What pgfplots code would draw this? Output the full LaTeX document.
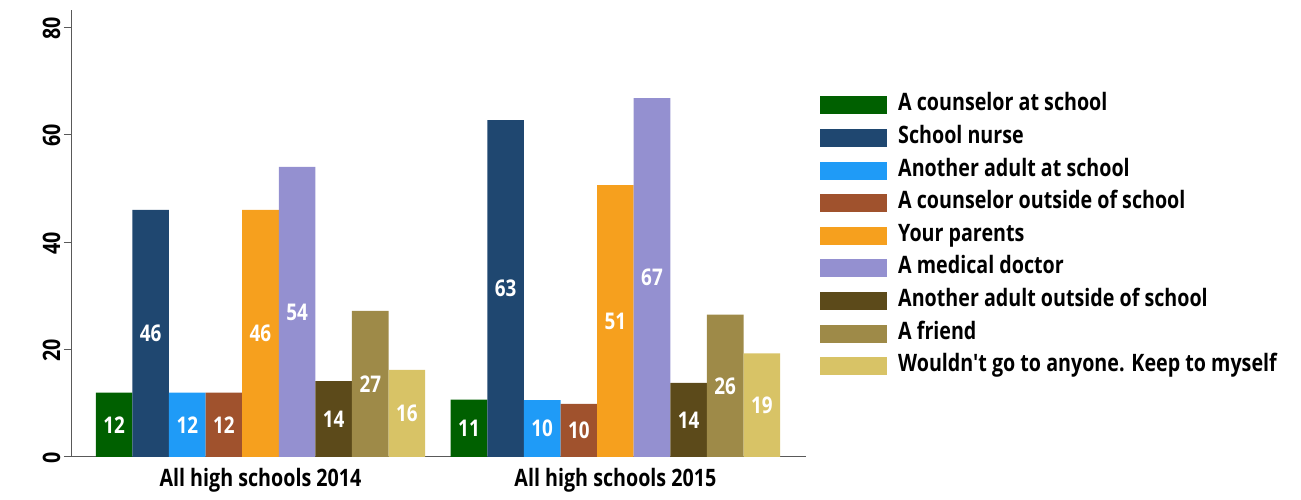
\documentclass[border=0pt]{standalone}
\usepackage{fontspec}
\setmainfont{Open Sans}[FakeStretch=0.82, Ligatures=TeXOff]
\usepackage{pgfplots}
\pgfplotsset{compat=1.18}
\definecolor{cA}{HTML}{006000}
\definecolor{cB}{HTML}{1F4770}
\definecolor{cC}{HTML}{1F9BF7}
\definecolor{cD}{HTML}{A0522D}
\definecolor{cE}{HTML}{F6A01E}
\definecolor{cF}{HTML}{9490D0}
\definecolor{cG}{HTML}{5C4A1A}
\definecolor{cH}{HTML}{9E8A48}
\definecolor{cI}{HTML}{D8C366}
\begin{document}
\begin{tikzpicture}[x=1pt,y=1pt]
\useasboundingbox (-72,-43) rectangle (1229,457);
\begin{axis}[
  at={(0,0)}, anchor=south west,
  scale only axis, width=734pt, height=447pt,
  ymin=0, ymax=83.2, xmin=-0.531, xmax=1.537,
  ybar=0pt, bar width=36.6pt,
  axis x line*=bottom, axis y line*=left,
  axis line style={draw=black!65, line width=1pt},
  ytick={0,20,40,60,80},
  xtick={0,1}, xticklabels={All high schools 2014, All high schools 2015},
  x tick style={draw=none},
  y tick style={draw=black!65, line width=1pt},
  tick align=outside, major tick length=8pt,
  /pgf/number format/assume math mode=true,
  yticklabel style={rotate=90, anchor=south, xshift=-1pt, font=\bfseries\fontsize{24}{26}\selectfont},
  xticklabel style={font=\bfseries\fontsize{24}{26}\selectfont},
  point meta=explicit symbolic,
  nodes near coords,
  visualization depends on=y \as \rawy,
  every node near coord/.append style={anchor=center, text=white,
     font=\bfseries\fontsize{23}{26}\selectfont,
     shift={(axis direction cs:0,-\rawy/2)}},
  legend image code/.code={\fill[#1] (0pt,-9pt) rectangle (67pt,9pt);},
  legend cell align=left,
  legend style={at={(1,0.495)}, anchor=west, xshift=14pt, draw=none, fill=none,
     inner sep=0pt, row sep=11.6pt,
     font=\bfseries\fontsize{24}{26}\selectfont,
     nodes={inner sep=0pt, text height=16pt, text depth=5pt},
     /tikz/every odd column/.append style={column sep=11pt}},
]
\addplot[fill=cA, draw=none] coordinates {(0,12) [12] (1,10.7) [11]};
\addplot[fill=cB, draw=none] coordinates {(0,46) [46] (1,62.7) [63]};
\addplot[fill=cC, draw=none] coordinates {(0,12) [12] (1,10.6) [10]};
\addplot[fill=cD, draw=none] coordinates {(0,12) [12] (1,9.9) [10]};
\addplot[fill=cE, draw=none] coordinates {(0,46) [46] (1,50.6) [51]};
\addplot[fill=cF, draw=none] coordinates {(0,54) [54] (1,66.8) [67]};
\addplot[fill=cG, draw=none] coordinates {(0,14.1) [14] (1,13.8) [14]};
\addplot[fill=cH, draw=none] coordinates {(0,27.2) [27] (1,26.5) [26]};
\addplot[fill=cI, draw=none] coordinates {(0,16.2) [16] (1,19.3) [19]};
\legend{A counselor at school, School nurse, Another adult at school, A counselor outside of school, Your parents, A medical doctor, Another adult outside of school, A friend, Wouldn't go to anyone. Keep to myself}
\end{axis}
\end{tikzpicture}
\end{document}
